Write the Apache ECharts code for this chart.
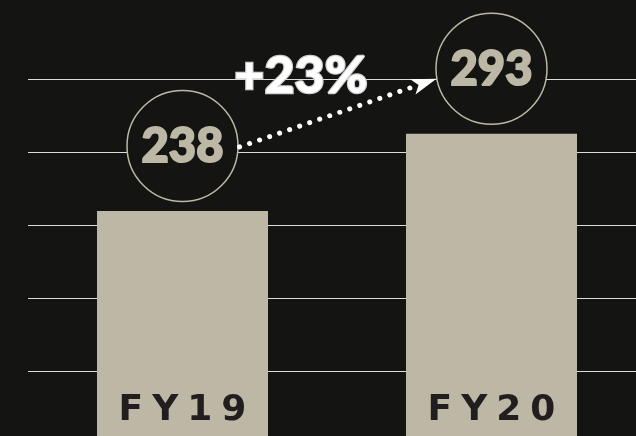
<!DOCTYPE html>
<html>
<head>
<meta charset="utf-8">
<script src="https://cdn.jsdelivr.net/npm/echarts@6/dist/echarts.min.js"></script>
<style>
html, body { margin: 0; padding: 0; background: #141512; }
#main { width: 636px; height: 436px; }
</style>
</head>
<body>
<div id="main"></div>
<script>
var categories = ['FY19', 'FY20'];
var values = [238, 293];

var beige = '#bdb7a6';
var bg = '#141512';

// growth between the two years, shown on the arrow
var growth = Math.round((values[1] / values[0] - 1) * 100);

var chart = echarts.init(document.getElementById('main'));

chart.setOption({
    backgroundColor: bg,
    animation: false,
    grid: {left: 28, width: 618, top: 79, bottom: -8, outerBoundsMode: 'none'},
    xAxis: {type: 'category', data: categories, show: false},
    yAxis: [
        {type: 'value', min: 72, max: 332, show: false},
        {
            type: 'value', min: 0, max: 5, interval: 1,
            axisLabel: {show: false}, axisLine: {show: false}, axisTick: {show: false},
            splitLine: {show: true, lineStyle: {color: '#dcdcd8', width: 1.2}}
        }
    ],
    series: [
        {
            type: 'bar',
            yAxisIndex: 0,
            data: values,
            barWidth: 171,
            itemStyle: {color: beige},
            label: {
                show: true,
                position: 'insideBottom',
                distance: 15,
                // wide letter spacing like the original
                formatter: function (p) { return categories[p.dataIndex].split('').join('\u2005'); },
                color: '#221e20',
                textBorderWidth: 0,
                fontFamily: 'DejaVu Sans',
                fontWeight: 'bold',
                fontSize: 36
            }
        },
        {
            // value bubbles above each bar
            type: 'custom',
            yAxisIndex: 0,
            z: 3,
            data: values.map(function (v, i) { return [i, v]; }),
            renderItem: function (params, api) {
                var p = api.coord([api.value(0), api.value(1)]);
                var cy = p[1] - 65;
                return {
                    type: 'group',
                    children: [
                        {type: 'circle', shape: {cx: p[0], cy: cy, r: 55.5},
                         style: {fill: bg, stroke: beige, lineWidth: 1.5}},
                        {type: 'text', style: {
                            text: String(api.value(1)), x: p[0], y: cy + 1,
                            align: 'center', verticalAlign: 'middle',
                            font: '900 47px Lato', fill: beige,
                            stroke: beige, lineWidth: 2
                        }}
                    ]
                };
            }
        },
        {
            // dotted growth arrow between the bubbles
            type: 'custom',
            yAxisIndex: 0,
            z: 4,
            data: [[0, values[0], 1, values[1]]],
            renderItem: function (params, api) {
                var a = api.coord([api.value(0), api.value(1)]);
                var b = api.coord([api.value(2), api.value(3)]);
                var c1 = [a[0], a[1] - 65], c2 = [b[0], b[1] - 65];
                var s = [c1[0] + 57, c1[1] + 1];
                var t = [c2[0] - 55, c2[1] + 10];
                var dx = t[0] - s[0], dy = t[1] - s[1];
                var len = Math.sqrt(dx * dx + dy * dy);
                var ux = dx / len, uy = dy / len, nx = -uy, ny = ux;
                var headLen = 25, half = 8;
                var e = [t[0] - ux * (headLen - 2), t[1] - uy * (headLen - 2)];
                return {
                    type: 'group',
                    children: [
                        {type: 'line', shape: {x1: s[0], y1: s[1], x2: e[0], y2: e[1]},
                         style: {stroke: '#ffffff', lineWidth: 5, lineCap: 'round', lineDash: [0.1, 10.5]}},
                        {type: 'polygon', shape: {points: [
                            t,
                            [t[0] - ux * headLen + nx * half, t[1] - uy * headLen + ny * half],
                            [t[0] - ux * (headLen - 6), t[1] - uy * (headLen - 6)],
                            [t[0] - ux * headLen - nx * half, t[1] - uy * headLen - ny * half]
                        ]}, style: {fill: '#ffffff'}},
                        {type: 'text', style: {
                            text: '+' + growth + '%',
                            x: (c1[0] + c2[0]) / 2 - 36, y: c2[1] + 7,
                            align: 'center', verticalAlign: 'middle',
                            font: '900 52px Lato', fill: '#ffffff',
                            stroke: '#d0d0d0', lineWidth: 2.5
                        }}
                    ]
                };
            }
        }
    ]
});
</script>
</body>
</html>
